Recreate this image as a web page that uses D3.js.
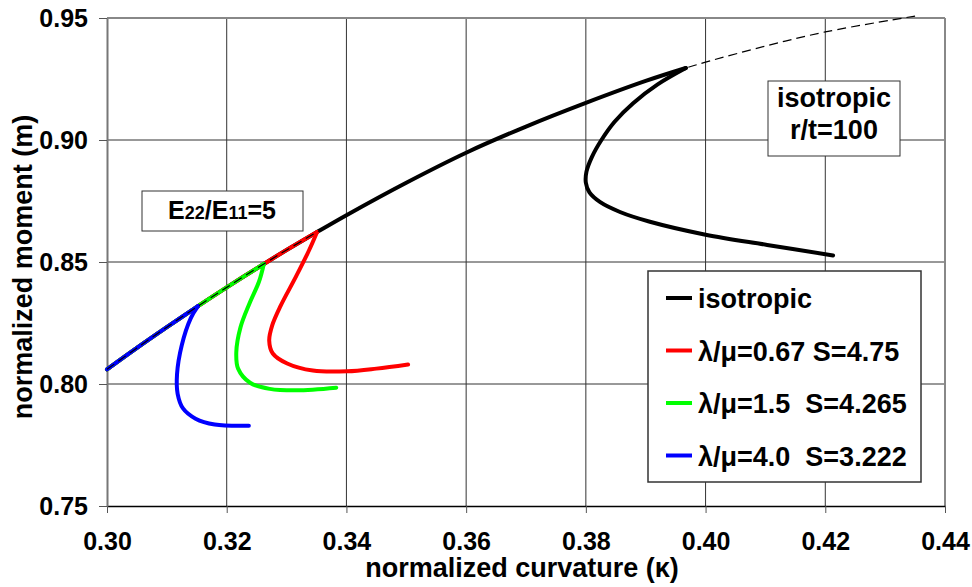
<!DOCTYPE html>
<html><head><meta charset="utf-8">
<script src="https://cdn.jsdelivr.net/npm/d3@7"></script>
<style>
body{margin:0;background:#fff;}
text{font-family:"Liberation Sans",Arial,sans-serif;font-weight:bold;fill:#000;}
</style></head><body>
<svg id="chart" width="972" height="587"></svg>
<script>
const xTicks = [0.30,0.32,0.34,0.36,0.38,0.40,0.42,0.44];
const yTicks = [0.75,0.80,0.85,0.90,0.95];

// pre-buckling (primary) path, shared by all cases
const primary = [[0.300,0.806],[0.305,0.8148],[0.310,0.8233],[0.3152,0.8319],[0.320,0.8396],[0.3262,0.8492],[0.330,0.8549],[0.3351,0.8623],[0.340,0.8692],[0.350,0.8825],[0.360,0.8948],[0.370,0.9055],[0.380,0.9152],[0.390,0.9242],[0.3967,0.9295]];
// dashed continuation of the primary path
const extension = [[0.3967,0.9295],[0.400,0.9319],[0.410,0.9385],[0.420,0.9443],[0.435,0.9508]];

// post-buckling branches (start at the limit point)
const isoPost = [[0.3967,0.9295],[0.3920,0.9228],[0.3879,0.9151],[0.3848,0.9075],[0.3826,0.9000],[0.3810,0.8930],[0.3801,0.8870],[0.3800,0.8825],[0.3806,0.8785],[0.3824,0.8745],[0.3857,0.8705],[0.3907,0.8665],[0.4000,0.8612],[0.4103,0.8570],[0.4213,0.8527]];
const redPost = [[0.3351,0.8623],[0.3337,0.8545],[0.3315,0.8437],[0.3290,0.8320],[0.3276,0.8240],[0.3271,0.8178],[0.3277,0.8125],[0.3301,0.8084],[0.3344,0.8055],[0.3401,0.8052],[0.3450,0.8063],[0.3503,0.808]];
const greenPost = [[0.3262,0.8492],[0.3254,0.8420],[0.3238,0.8330],[0.3223,0.8232],[0.3216,0.8130],[0.3219,0.8063],[0.3239,0.8005],[0.3272,0.7980],[0.3317,0.7974],[0.3383,0.7985]];
const bluePost = [[0.3152,0.8319],[0.3140,0.8270],[0.3125,0.8160],[0.3117,0.8040],[0.3118,0.7960],[0.3127,0.7900],[0.3148,0.7858],[0.3180,0.7834],[0.3237,0.7829]];

const legendLabels = ["isotropic","λ/μ=0.67 S=4.75","λ/μ=1.5  S=4.265","λ/μ=4.0  S=3.222"];
const legendColors = ["#000000","#ff0000","#00ff00","#0000ff"];

const svg = d3.select("#chart");
const x = d3.scaleLinear().domain([0.30,0.44]).range([107,945]);
const y = d3.scaleLinear().domain([0.75,0.95]).range([506,18]);

// grid
svg.append("g").selectAll("line").data(xTicks.slice(1,-1)).join("line")
  .attr("x1",d=>x(d)).attr("x2",d=>x(d)).attr("y1",y(0.95)).attr("y2",y(0.75))
  .attr("stroke","#333").attr("stroke-width",1);
svg.append("g").selectAll("line").data(yTicks.slice(1,-1)).join("line")
  .attr("x1",x(0.30)).attr("x2",x(0.44)).attr("y1",d=>y(d)).attr("y2",d=>y(d))
  .attr("stroke","#333").attr("stroke-width",1);
// frame
svg.append("line").attr("x1",x(0.30)).attr("x2",x(0.44)).attr("y1",y(0.95)).attr("y2",y(0.95)).attr("stroke","#888").attr("stroke-width",2);
svg.append("line").attr("x1",x(0.44)).attr("x2",x(0.44)).attr("y1",y(0.95)).attr("y2",y(0.75)).attr("stroke","#888").attr("stroke-width",2);

// axes
const xAxis = svg.append("g").attr("transform",`translate(0,${y(0.75)})`)
  .call(d3.axisBottom(x).tickValues(xTicks).tickFormat(d3.format(".2f")).tickSize(7).tickSizeOuter(0));
xAxis.select(".domain").attr("stroke","#000").attr("stroke-width",1.5);
xAxis.selectAll(".tick line").attr("stroke","#555");
xAxis.selectAll("text").style("font-size","25px").attr("dy",null).attr("y",44);
const yAxis = svg.append("g").attr("transform",`translate(${x(0.30)},0)`)
  .call(d3.axisLeft(y).tickValues(yTicks).tickFormat(d3.format(".2f")).tickSize(8).tickSizeOuter(0).tickPadding(11));
yAxis.select(".domain").attr("stroke","#777").attr("stroke-width",2);
yAxis.selectAll(".tick line").attr("stroke","#555");
yAxis.selectAll("text").style("font-size","25px");

svg.append("text").attr("x",522).attr("y",577).attr("text-anchor","middle").style("font-size","27px").text("normalized curvature (κ)");
svg.append("text").attr("transform","translate(32,267) rotate(-90)").attr("text-anchor","middle").style("font-size","27px").text("normalized moment (m)");

const line = d3.line().x(d=>x(d[0])).y(d=>y(d[1])).curve(d3.curveCatmullRom.alpha(0.5));
function drawBranch(post,color){
  const pre = primary.filter(d=>d[0] < post[0][0]).concat([post[0]]);
  [pre,post].forEach(seg=>{
    svg.append("path").datum(seg).attr("d",line).attr("fill","none").attr("stroke",color)
      .attr("stroke-width",4).attr("stroke-linejoin","round").attr("stroke-linecap","round");
  });
}
drawBranch(isoPost,"#000000");
drawBranch(redPost,"#ff0000");
drawBranch(greenPost,"#00ff00");
drawBranch(bluePost,"#0000ff");
svg.append("path").datum(primary.concat(extension.slice(1))).attr("d",line).attr("fill","none")
  .attr("stroke","#000").attr("stroke-width",1.2).attr("stroke-dasharray","9,5");

// label boxes
const b1 = svg.append("g");
b1.append("rect").attr("x",142).attr("y",191).attr("width",161).attr("height",40).attr("fill","#fff").attr("stroke","#333").attr("stroke-width",1);
const t1 = b1.append("text").attr("x",222).attr("y",219).attr("text-anchor","middle").style("font-size","25px");
t1.append("tspan").text("E");
t1.append("tspan").style("font-size","18px").text("22");
t1.append("tspan").text("/E");
t1.append("tspan").style("font-size","18px").text("11");
t1.append("tspan").text("=5");

const b2 = svg.append("g");
b2.append("rect").attr("x",768).attr("y",81).attr("width",132).attr("height",75).attr("fill","#fff").attr("stroke","#333").attr("stroke-width",1);
b2.append("text").attr("x",834).attr("y",107).attr("text-anchor","middle").style("font-size","27px").text("isotropic");
b2.append("text").attr("x",834).attr("y",139).attr("text-anchor","middle").style("font-size","27px").text("r/t=100");

// legend
const lg = svg.append("g");
lg.append("rect").attr("x",648).attr("y",271).attr("width",273).attr("height",211).attr("fill","#fff").attr("stroke","#333").attr("stroke-width",1.5);
const rows = lg.selectAll("g.row").data(legendLabels).join("g").attr("class","row")
  .attr("transform",(d,i)=>`translate(0,${298+i*52.5})`);
rows.append("line").attr("x1",666).attr("x2",692).attr("y1",0).attr("y2",0).attr("stroke",(d,i)=>legendColors[i]).attr("stroke-width",4);
rows.append("text").attr("x",698).attr("y",10).style("font-size","27px").style("white-space","pre").attr("xml:space","preserve").text(d=>d);
</script>
</body></html>
